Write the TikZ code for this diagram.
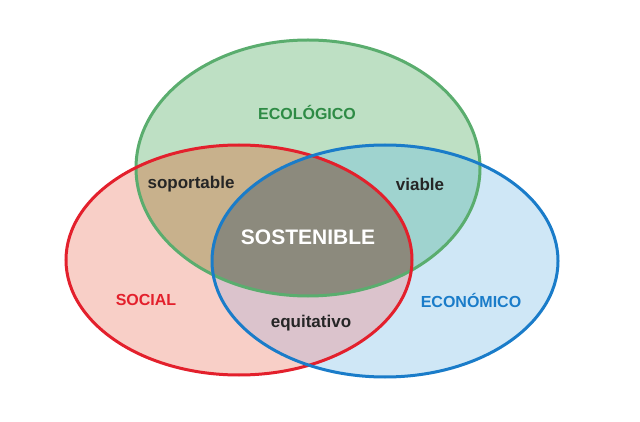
\documentclass[tikz,border=0pt]{standalone}
\usepackage{fontspec}
\setmainfont{Liberation Sans}
\begin{document}
\begin{tikzpicture}[x=1pt,y=-1pt,
  lbl/.style={font=\bfseries\fontsize{16}{16}\selectfont},
  sub/.style={font=\bfseries\fontsize{17}{17}\selectfont,text=black!85}]
\useasboundingbox (0,0) rectangle (640,422);
\def\G{(308,168) ellipse [x radius=172,y radius=128]}
\def\R{(239,260) ellipse [x radius=173,y radius=115]}
\def\B{(385,261) ellipse [x radius=173,y radius=116]}
\definecolor{gf}{HTML}{BEE0C4}\definecolor{rf}{HTML}{F8CFC7}\definecolor{bf}{HTML}{CFE7F6}
\definecolor{gr}{HTML}{C8B18C}\definecolor{gb}{HTML}{9FD3CF}\definecolor{rb}{HTML}{DBC3CC}
\definecolor{c}{HTML}{8C8A7D}
\definecolor{gl}{HTML}{5AAD6E}\definecolor{rl}{HTML}{E3202C}\definecolor{bl}{HTML}{1A7CC9}
\definecolor{gt}{HTML}{2E8B45}
\fill[rf] \R; \fill[bf] \B; \fill[gf] \G;
\begin{scope}\clip \G; \fill[gr] \R; \fill[gb] \B; \end{scope}
\begin{scope}\clip \R; \fill[rb] \B; \end{scope}
\begin{scope}\clip \G; \clip \R; \fill[c] \B; \end{scope}
\draw[gl,line width=3] \G;
\draw[rl,line width=3] \R;
\draw[bl,line width=3] \B;
\node[lbl,text=gt] (eco) at (307,112) {ECOLÓGICO};
\node[lbl,text=rl] (soc) at (146,300) {SOCIAL};
\node[lbl,text=bl] (econ) at (471,300) {ECONÓMICO};
\node[sub] (sop) at (191,184) {soportable};
\node[sub] (via) at (420,184) {viable};
\node[sub] (equ) at (311,323) {equitativo};
\node[font=\bfseries\fontsize{21}{21}\selectfont,text=white] (sos) at (308,237) {SOSTENIBLE};
\end{tikzpicture}
\end{document}
